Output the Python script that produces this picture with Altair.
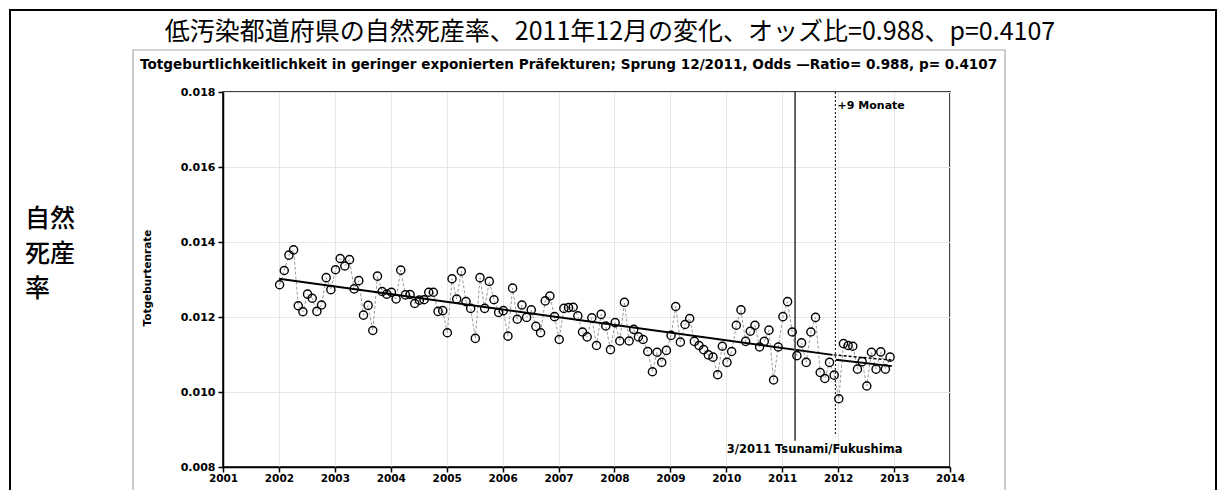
import altair as alt
import pandas as pd

# ---------------- data ----------------
years = list(range(2002, 2013))
rate_2002 = [0.01286, 0.01324, 0.01365, 0.01379, 0.01230, 0.01214, 0.01261, 0.01250, 0.01215, 0.01232, 0.01305, 0.01273]
rate_2003 = [0.01326, 0.01356, 0.01336, 0.01353, 0.01275, 0.01297, 0.01205, 0.01231, 0.01164, 0.01309, 0.01268, 0.01261]
rate_2004 = [0.01266, 0.01248, 0.01325, 0.01259, 0.01260, 0.01236, 0.01245, 0.01246, 0.01266, 0.01266, 0.01215, 0.01217]
rate_2005 = [0.01158, 0.01302, 0.01248, 0.01322, 0.01241, 0.01223, 0.01143, 0.01305, 0.01223, 0.01295, 0.01246, 0.01212]
rate_2006 = [0.01217, 0.01149, 0.01277, 0.01194, 0.01232, 0.01199, 0.01219, 0.01175, 0.01158, 0.01243, 0.01256, 0.01201]
rate_2007 = [0.01140, 0.01223, 0.01225, 0.01226, 0.01203, 0.01160, 0.01147, 0.01198, 0.01124, 0.01207, 0.01176, 0.01113]
rate_2008 = [0.01185, 0.01136, 0.01239, 0.01136, 0.01167, 0.01147, 0.01140, 0.01108, 0.01054, 0.01106, 0.01079, 0.01111]
rate_2009 = [0.01151, 0.01228, 0.01133, 0.01180, 0.01196, 0.01135, 0.01124, 0.01113, 0.01099, 0.01093, 0.01046, 0.01122]
rate_2010 = [0.01079, 0.01108, 0.01178, 0.01219, 0.01135, 0.01162, 0.01178, 0.01120, 0.01135, 0.01165, 0.01032, 0.01120]
rate_2011 = [0.01201, 0.01241, 0.01160, 0.01097, 0.01131, 0.01079, 0.01160, 0.01199, 0.01052, 0.01036, 0.01079, 0.01045]
rate_2012 = [0.00982, 0.01129, 0.01124, 0.01122, 0.01061, 0.01081, 0.01016, 0.01106, 0.01061, 0.01107, 0.01061, 0.01093]
rates_by_year = [rate_2002, rate_2003, rate_2004, rate_2005, rate_2006, rate_2007,
                 rate_2008, rate_2009, rate_2010, rate_2011, rate_2012]

# fitted trend (solid) before and after the jump, and the counterfactual (dotted)
trend_t = [2002.00, 2011.90]
trend_r = [0.01302, 0.01099]
post_t = [2011.96, 2012.96]
post_r = [0.01086, 0.01069]
cf_t = [2011.92, 2012.96]
cf_r = [0.01099, 0.01085]

# event markers
event_t = [2011.23, 2011.95]
event_top = [0.0180, 0.0180]
event_bottom = [0.00870, 0.00882]
event_kind = ["tsunami", "jump"]

note_texts = ["+9 Monate", "3/2011 Tsunami/Fukushima"]
note_t = [2011.99, 2011.58]
note_r = [0.01762, 0.00846]

x_ticks = list(range(2001, 2015))
y_ticks = [0.008, 0.010, 0.012, 0.014, 0.016, 0.018]

title_ja = "低汚染都道府県の自然死産率、2011年12月の変化、オッズ比=0.988、p=0.4107"
title_de = ("Totgeburtlichkeitlichkeit in geringer exponierten Präfekturen; "
            "Sprung 12/2011, Odds \u2014Ratio= 0.988, p= 0.4107")
y_title = "Totgeburtenrate"
side_label = ["自然", "死産", "率"]

# ---------------- tables ----------------
rows = []
for yr, vals in zip(years, rates_by_year):
    for m, v in enumerate(vals):
        rows.append({"t": yr + m / 12 + 0.012, "rate": v})
df = pd.DataFrame(rows)

trend_df = pd.DataFrame({"t": trend_t, "rate": trend_r})
post_df = pd.DataFrame({"t": post_t, "rate": post_r})
cf_df = pd.DataFrame({"t": cf_t, "rate": cf_r})
ev_df = pd.DataFrame({"t": event_t, "top": event_top, "bottom": event_bottom, "kind": event_kind})
note_df = pd.DataFrame({"t": note_t, "rate": note_r, "txt": note_texts})
one = pd.DataFrame({"k": [0]})

FONT = "DejaVu Sans"

xscale = alt.Scale(domain=[2001, 2014], nice=False, zero=False)
yscale = alt.Scale(domain=[0.008, 0.018], nice=False, zero=False)

x_axis = alt.Axis(values=x_ticks, format="d", title=None, labelFont=FONT,
                  labelFontWeight="bold", labelFontSize=10.5, labelColor="black",
                  tickColor="black", tickSize=5, tickWidth=1.5, domainColor="black",
                  domainWidth=1.5, gridColor="#e6e6e6", gridWidth=1, labelPadding=1,
                  labelFlush=False)
y_axis = alt.Axis(values=y_ticks, format=".3f", title=None, labelFont=FONT,
                  labelFontWeight="bold", labelFontSize=11, labelColor="black",
                  tickColor="black", tickSize=5, tickWidth=1.5, domainColor="black",
                  domainWidth=1.5, gridColor="#e6e6e6", gridWidth=1, labelPadding=3)

X = alt.X("t:Q", scale=xscale, axis=x_axis)
Y = alt.Y("rate:Q", scale=yscale, axis=y_axis)

# ---------------- decorations (outside the plot area) ----------------
outer = alt.Chart(one).mark_rect(fillOpacity=0, stroke="black", strokeWidth=2).encode(
    x=alt.value(-213), x2=alt.value(993), y=alt.value(-82), y2=alt.value(430))
inner = alt.Chart(one).mark_rect(fillOpacity=0, stroke="#a8a8a8", strokeWidth=1.2).encode(
    x=alt.value(-90), x2=alt.value(782), y=alt.value(-42), y2=alt.value(430))

t_ja = alt.Chart(one).mark_text(text=title_ja, font="Noto Sans CJK JP", fontSize=25,
                                align="center", baseline="middle", color="black").encode(
    x=alt.value(387), y=alt.value(-60))
t_de = alt.Chart(one).mark_text(text=title_de, font=FONT, fontWeight="bold", fontSize=13.6,
                                align="left", baseline="middle", color="black").encode(
    x=alt.value(-83), y=alt.value(-27))
t_y = alt.Chart(one).mark_text(text=y_title, font=FONT, fontWeight="bold", fontSize=10.5,
                               angle=270, align="center", baseline="middle",
                               color="black").encode(x=alt.value(-75), y=alt.value(186))
side = []
for i, s in enumerate(side_label):
    side.append(alt.Chart(one).mark_text(text=s, font="Noto Sans CJK JP", fontSize=25,
                                         fontWeight=500, align="left", baseline="middle",
                                         color="black").encode(
        x=alt.value(-198), y=alt.value(127 + 35 * i)))

# ---------------- data layers ----------------
connect = alt.Chart(df).mark_line(color="#9a9a9a", strokeWidth=1, strokeDash=[3, 2]).encode(x=X, y=Y)
pts = alt.Chart(df).mark_point(shape="circle", filled=False, color="black", size=66,
                               strokeWidth=1.4, opacity=1).encode(x=X, y=Y)
trend = alt.Chart(trend_df).mark_line(color="black", strokeWidth=2).encode(x=X, y=Y)
post = alt.Chart(post_df).mark_line(color="black", strokeWidth=2).encode(x=X, y=Y)
cf = alt.Chart(cf_df).mark_line(color="black", strokeWidth=1.5, strokeDash=[3, 2]).encode(x=X, y=Y)

ev_solid = alt.Chart(ev_df).transform_filter(alt.datum.kind == "tsunami").mark_rule(
    color="#555555", strokeWidth=1.8).encode(
    x=X, y=alt.Y("top:Q", scale=yscale, axis=y_axis), y2="bottom:Q")
ev_dot = alt.Chart(ev_df).transform_filter(alt.datum.kind == "jump").mark_rule(
    color="black", strokeWidth=1, strokeDash=[2, 2]).encode(
    x=X, y=alt.Y("top:Q", scale=yscale, axis=y_axis), y2="bottom:Q")

note1 = alt.Chart(note_df).transform_filter(alt.datum.txt == note_texts[0]).mark_text(
    font=FONT, fontWeight="bold", fontSize=11, align="left", baseline="middle",
    color="black").encode(x=X, y=Y, text="txt:N")
note2 = alt.Chart(note_df).transform_filter(alt.datum.txt == note_texts[1]).mark_text(
    font=FONT, fontWeight="bold", fontSize=11.5, align="center", baseline="middle",
    color="black").encode(x=X, y=Y, text="txt:N")

chart = alt.layer(
    outer, inner, t_ja, t_de, t_y, *side,
    connect, trend, post, cf, ev_solid, ev_dot, pts, note1, note2
).properties(
    width=727, height=375,
    autosize=alt.AutoSizeParams(type="none"),
    padding={"left": 215, "top": 84, "right": 267, "bottom": 23},
    background="white",
).configure_view(stroke="black", strokeWidth=1.5)

chart.save("out.html", embed_options={"renderer": "svg", "actions": False})
